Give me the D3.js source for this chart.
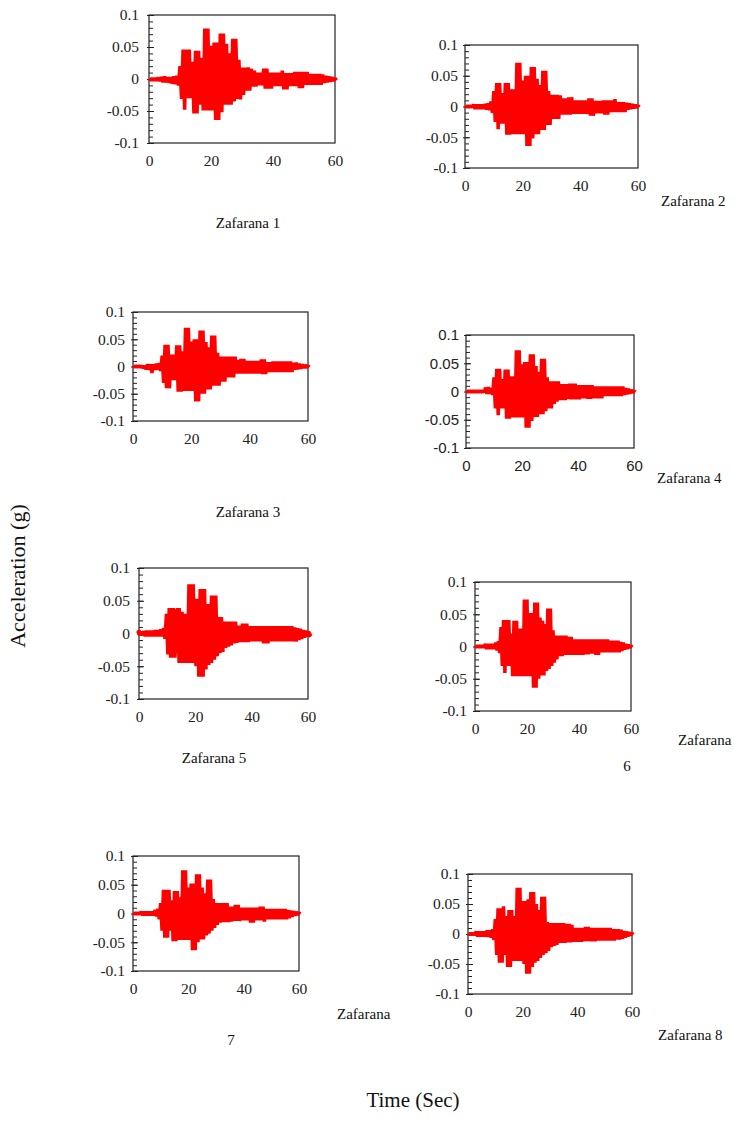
<!DOCTYPE html>
<html>
<head>
<meta charset="utf-8">
<script src="https://cdn.jsdelivr.net/npm/d3@7"></script>
<style>
  body { margin: 0; background: #fff; }
  svg { display: block; }
</style>
</head>
<body>
<svg id="chart" width="734" height="1129"></svg>
<script>
// record length (s) and axis ticks
const seconds = d3.range(0, 61);
const xTickValues = [0, 20, 40, 60];
const yTickValues = [0.1, 0.05, 0, -0.05, -0.1];
const yTickLabels = ['0.1', '0.05', '0', '-0.05', '-0.1'];

// station names
const stations = ['Zafarana 1', 'Zafarana 2', 'Zafarana 3', 'Zafarana 4',
  'Zafarana 5', 'Zafarana 6', 'Zafarana 7', 'Zafarana 8'];

// positive / negative peaks per second
const up1 = [
  .001,.001,.001,.002,.003,.004,.003,.003,.004,.005,
  .02,.046,.046,.046,.027,.044,.044,.033,.079,.079,
  .052,.057,.057,.071,.071,.055,.04,.063,.063,.03,
  .018,.018,.018,.016,.013,.01,.01,.016,.016,.01,
  .01,.01,.01,.013,.009,.009,.009,.011,.011,.011,
  .011,.011,.008,.008,.008,.008,.007,.005,.004,.003,
  .001];
const lo1 = [
  -.002,-.002,-.002,-.003,-.005,-.005,-.006,-.007,-.008,-.01,
  -.031,-.048,-.03,-.03,-.054,-.054,-.04,-.049,-.049,-.049,
  -.049,-.064,-.064,-.052,-.04,-.04,-.04,-.035,-.031,-.032,
  -.025,-.018,-.018,-.012,-.012,-.01,-.01,-.015,-.015,-.015,
  -.011,-.011,-.011,-.016,-.016,-.011,-.011,-.011,-.014,-.014,
  -.009,-.009,-.009,-.009,-.009,-.009,-.006,-.005,-.004,-.003,
  -.002];

const up2 = [
  .001,.001,.001,.003,.003,.003,.003,.004,.005,.008,
  .025,.038,.038,.022,.038,.038,.028,.028,.071,.071,
  .042,.05,.05,.064,.064,.045,.035,.058,.058,.025,
  .019,.019,.019,.018,.013,.013,.015,.015,.01,.01,
  .01,.01,.01,.013,.013,.009,.009,.009,.01,.01,
  .01,.01,.012,.007,.007,.007,.006,.005,.004,.003,
  .001];
const lo2 = [
  -.001,-.001,-.001,-.004,-.004,-.004,-.004,-.005,-.006,-.01,
  -.025,-.037,-.028,-.028,-.046,-.046,-.045,-.045,-.045,-.045,
  -.045,-.064,-.064,-.052,-.045,-.045,-.038,-.038,-.03,-.03,
  -.02,-.02,-.02,-.013,-.013,-.013,-.013,-.012,-.012,-.012,
  -.012,-.012,-.012,-.015,-.015,-.011,-.011,-.011,-.013,-.013,
  -.009,-.009,-.009,-.009,-.009,-.009,-.005,-.004,-.003,-.002,
  -.001];

const up3 = [
  .001,.001,.001,.001,.001,.004,.004,.004,.005,.006,
  .02,.04,.04,.022,.022,.039,.039,.028,.071,.071,
  .046,.05,.05,.066,.066,.045,.035,.057,.057,.025,
  .018,.018,.018,.018,.018,.018,.012,.014,.014,.01,
  .01,.01,.01,.01,.013,.013,.008,.008,.009,.009,
  .009,.009,.009,.009,.009,.007,.007,.005,.004,.003,
  .001];
const lo3 = [
  -.001,-.001,-.001,-.003,-.005,-.006,-.012,-.006,-.006,-.008,
  -.03,-.04,-.04,-.025,-.025,-.046,-.046,-.045,-.045,-.045,
  -.045,-.064,-.064,-.05,-.05,-.042,-.042,-.035,-.035,-.035,
  -.028,-.028,-.02,-.02,-.02,-.013,-.013,-.013,-.013,-.013,
  -.013,-.013,-.013,-.013,-.014,-.014,-.01,-.01,-.01,-.01,
  -.01,-.01,-.01,-.01,-.01,-.006,-.005,-.004,-.003,-.002,
  -.001];

const up4 = [
  .001,.001,.001,.001,.001,.001,.001,.007,.008,.006,
  .025,.04,.04,.022,.039,.039,.027,.027,.073,.073,
  .048,.052,.052,.066,.066,.045,.035,.058,.058,.025,
  .018,.018,.018,.018,.013,.013,.013,.014,.014,.014,
  .011,.011,.011,.011,.011,.011,.009,.009,.009,.009,
  .009,.009,.009,.009,.009,.009,.009,.006,.005,.003,
  .001];
const lo4 = [
  -.001,-.001,-.001,-.001,-.001,-.001,-.001,-.004,-.004,-.006,
  -.03,-.042,-.03,-.03,-.048,-.048,-.046,-.046,-.046,-.046,
  -.046,-.064,-.064,-.052,-.045,-.045,-.04,-.04,-.035,-.03,
  -.03,-.022,-.018,-.015,-.015,-.015,-.013,-.014,-.014,-.014,
  -.014,-.012,-.012,-.013,-.013,-.012,-.012,-.012,-.012,-.008,
  -.008,-.008,-.008,-.008,-.008,-.008,-.006,-.005,-.004,-.002,
  -.001];

const up5 = [
  .002,.002,.003,.004,.004,.004,.005,.005,.006,.008,
  .03,.039,.039,.037,.039,.033,.03,.03,.075,.075,
  .053,.053,.068,.068,.045,.045,.058,.058,.025,.025,
  .018,.018,.018,.018,.018,.012,.012,.015,.015,.011,
  .011,.011,.011,.011,.011,.011,.011,.011,.011,.011,
  .011,.011,.011,.011,.011,.009,.008,.007,.005,.004,
  .002];
const lo5 = [
  -.002,-.002,-.004,-.004,-.004,-.004,-.004,-.004,-.004,-.008,
  -.032,-.037,-.037,-.03,-.045,-.045,-.045,-.045,-.045,-.045,
  -.05,-.066,-.066,-.055,-.048,-.045,-.04,-.035,-.03,-.028,
  -.022,-.02,-.018,-.015,-.014,-.013,-.013,-.013,-.013,-.012,
  -.012,-.012,-.012,-.012,-.015,-.015,-.012,-.012,-.012,-.012,
  -.012,-.012,-.012,-.012,-.012,-.012,-.01,-.008,-.006,-.004,
  -.002];

const up6 = [
  .001,.001,.001,.001,.004,.004,.004,.004,.006,.008,
  .03,.041,.041,.041,.02,.04,.04,.028,.028,.073,
  .073,.052,.052,.068,.068,.045,.04,.035,.059,.059,
  .025,.017,.017,.017,.017,.017,.015,.015,.011,.011,
  .011,.011,.011,.011,.011,.011,.011,.011,.011,.011,
  .011,.011,.009,.009,.009,.009,.007,.006,.004,.003,
  .001];
const lo6 = [
  -.001,-.001,-.001,-.001,-.004,-.004,-.004,-.004,-.006,-.01,
  -.03,-.041,-.03,-.03,-.046,-.046,-.046,-.046,-.046,-.046,
  -.046,-.046,-.064,-.064,-.05,-.045,-.045,-.038,-.035,-.03,
  -.025,-.02,-.015,-.015,-.013,-.013,-.013,-.013,-.013,-.013,
  -.013,-.013,-.012,-.012,-.011,-.011,-.013,-.013,-.009,-.009,
  -.009,-.009,-.009,-.009,-.009,-.009,-.007,-.005,-.004,-.002,
  -.001];

const up7 = [
  .001,.001,.001,.003,.003,.003,.003,.003,.006,.008,
  .018,.041,.041,.041,.023,.039,.039,.028,.075,.075,
  .045,.052,.052,.068,.068,.045,.035,.059,.059,.025,
  .018,.018,.018,.018,.018,.012,.012,.015,.015,.01,
  .01,.01,.01,.01,.01,.01,.012,.012,.008,.008,
  .008,.008,.008,.008,.008,.008,.006,.005,.004,.003,
  .001];
const lo7 = [
  -.001,-.001,-.001,-.003,-.003,-.003,-.003,-.003,-.005,-.01,
  -.03,-.042,-.042,-.03,-.048,-.048,-.046,-.046,-.046,-.046,
  -.046,-.064,-.064,-.05,-.045,-.045,-.038,-.035,-.03,-.025,
  -.02,-.016,-.015,-.015,-.015,-.014,-.013,-.013,-.013,-.012,
  -.012,-.012,-.016,-.016,-.012,-.012,-.012,-.014,-.01,-.01,
  -.01,-.01,-.01,-.01,-.01,-.01,-.008,-.006,-.004,-.002,
  -.001];

const up8 = [
  .001,.001,.001,.004,.004,.004,.004,.006,.006,.008,
  .025,.043,.043,.046,.03,.04,.04,.03,.077,.077,
  .055,.055,.058,.07,.07,.05,.04,.062,.062,.02,
  .018,.018,.018,.018,.018,.018,.017,.017,.015,.01,
  .01,.01,.01,.012,.012,.01,.01,.01,.01,.01,
  .01,.01,.01,.008,.008,.008,.007,.005,.004,.003,
  .001];
const lo8 = [
  -.001,-.001,-.001,-.004,-.004,-.004,-.004,-.005,-.006,-.01,
  -.035,-.048,-.048,-.035,-.055,-.055,-.045,-.045,-.045,-.045,
  -.05,-.066,-.066,-.055,-.048,-.045,-.04,-.035,-.032,-.028,
  -.022,-.02,-.018,-.015,-.015,-.015,-.014,-.014,-.013,-.013,
  -.013,-.013,-.012,-.012,-.012,-.012,-.012,-.011,-.011,-.011,
  -.011,-.011,-.011,-.011,-.009,-.009,-.008,-.006,-.004,-.002,
  -.001];

const ups = [up1, up2, up3, up4, up5, up6, up7, up8];
const lows = [lo1, lo2, lo3, lo4, lo5, lo6, lo7, lo8];

// where each small chart sits on the page (plot box + caption)
const layout = [
  { x0: 149, x1: 335, y0: 15, y1: 143, font: 'serif', sw: 3.5, pad: 10,
    cap: [{ t: 'Zafarana 1', x: 248, y: 228, a: 'middle' }] },
  { x0: 465, x1: 638, y0: 45, y1: 168, font: 'serif', sw: 3.5, pad: 7,
    cap: [{ t: 'Zafarana 2', x: 661, y: 206, a: 'start' }] },
  { x0: 133, x1: 308, y0: 312, y1: 421, font: 'serif', sw: 3.5, pad: 8,
    cap: [{ t: 'Zafarana 3', x: 248, y: 517, a: 'middle' }] },
  { x0: 466, x1: 634, y0: 335, y1: 448, font: 'sans', sw: 3.5, pad: 7,
    cap: [{ t: 'Zafarana 4', x: 657, y: 483, a: 'start' }] },
  { x0: 139, x1: 308, y0: 568, y1: 699, font: 'serif', sw: 5, pad: 9,
    cap: [{ t: 'Zafarana 5', x: 214, y: 763, a: 'middle' }] },
  { x0: 475, x1: 631, y0: 582, y1: 711, font: 'serif', sw: 3.5, pad: 8,
    cap: [{ t: 'Zafarana', x: 678, y: 745, a: 'start' }, { t: '6', x: 627, y: 771, a: 'middle' }] },
  { x0: 133, x1: 299, y0: 856, y1: 971, font: 'serif', sw: 3.5, pad: 8,
    cap: [{ t: 'Zafarana', x: 337, y: 1019, a: 'start' }, { t: '7', x: 231, y: 1045, a: 'middle' }] },
  { x0: 468, x1: 632, y0: 874, y1: 994, font: 'serif', sw: 3.5, pad: 8,
    cap: [{ t: 'Zafarana 8', x: 658, y: 1040, a: 'start' }] },
];

const fonts = {
  serif: '"Liberation Serif", "Times New Roman", serif',
  sans: '"Liberation Sans", Arial, sans-serif',
};

const svg = d3.select('#chart');

stations.forEach((name, k) => {
  const L = layout[k];
  const x = d3.scaleLinear().domain([0, 60]).range([L.x0, L.x1]);
  const y = d3.scaleLinear().domain([-0.1, 0.1]).range([L.y1, L.y0]);
  const g = svg.append('g').attr('class', 'panel').attr('data-name', name);
  const fs = L.font === 'sans' ? 15 : 15.5;

  // zigzag between positive and negative peaks
  const pts = [];
  seconds.forEach((s, i) => {
    pts.push([s, ups[k][i]]);
    pts.push([s + 0.5, lows[k][i]]);
  });
  const line = d3.line().x((d) => x(d[0])).y((d) => y(d[1]));

  // box
  g.append('rect')
    .attr('x', L.x0).attr('y', L.y0)
    .attr('width', L.x1 - L.x0).attr('height', L.y1 - L.y0)
    .attr('fill', 'none').attr('stroke', '#222').attr('stroke-width', 1.2);

  // minor ticks every 0.01 on the inside
  g.append('g')
    .attr('transform', `translate(${L.x0},0)`)
    .call(d3.axisLeft(y).ticks(20).tickSize(-4).tickFormat(''))
    .call((a) => a.select('.domain').remove())
    .call((a) => a.selectAll('line').attr('stroke', '#222'));

  // major ticks + labels
  g.append('g')
    .attr('transform', `translate(${L.x0},0)`)
    .call(d3.axisLeft(y).tickValues(yTickValues).tickSize(-5).tickPadding(L.pad)
      .tickFormat((d, i) => yTickLabels[i]))
    .call((a) => a.select('.domain').remove())
    .call((a) => a.selectAll('line').attr('stroke', '#222').attr('x1', -2))
    .call((a) => a.selectAll('text')
      .attr('font-family', fonts[L.font]).attr('font-size', fs).attr('fill', '#222'));

  // x labels (no ticks)
  g.append('g')
    .attr('transform', `translate(0,${L.y1})`)
    .call(d3.axisBottom(x).tickValues(xTickValues).tickSize(0).tickPadding(12))
    .call((a) => a.select('.domain').remove())
    .call((a) => a.selectAll('text')
      .attr('font-family', fonts[L.font]).attr('font-size', fs).attr('fill', '#222'));

  g.append('path')
    .datum(pts)
    .attr('d', line)
    .attr('fill', 'none')
    .attr('stroke', '#ff0000')
    .attr('stroke-width', L.sw)
    .attr('stroke-linejoin', 'bevel')
    .attr('stroke-linecap', k === 4 ? 'round' : 'butt');

  L.cap.forEach((c) => {
    g.append('text')
      .attr('x', c.x).attr('y', c.y)
      .attr('text-anchor', c.a)
      .attr('font-family', fonts.serif)
      .attr('font-size', 15)
      .attr('fill', '#111')
      .text(c.t);
  });
});

// shared axis titles
svg.append('text')
  .attr('transform', 'translate(25,576) rotate(-90)')
  .attr('text-anchor', 'middle')
  .attr('font-family', fonts.serif)
  .attr('font-size', 22)
  .attr('fill', '#111')
  .text('Acceleration (g)');

svg.append('text')
  .attr('x', 413).attr('y', 1107)
  .attr('text-anchor', 'middle')
  .attr('font-family', fonts.serif)
  .attr('font-size', 21)
  .attr('fill', '#111')
  .text('Time (Sec)');
</script>
</body>
</html>
